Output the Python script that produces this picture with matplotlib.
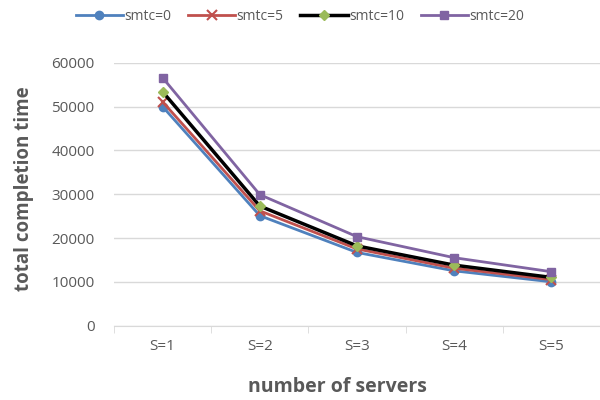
import matplotlib
matplotlib.use("Agg")
import matplotlib.pyplot as plt

# ── data ───────────────────────────────────────────────────────────────────────
servers = ["S=1", "S=2", "S=3", "S=4", "S=5"]
smtc0  = [50000, 25100, 16700, 12500, 10000]
smtc5  = [51100, 26200, 17500, 13100, 10500]
smtc10 = [53400, 27300, 18200, 13800, 11000]
smtc20 = [56600, 29900, 20300, 15500, 12300]

TEXT_CLR = "#595959"
GRID_CLR = "#d9d9d9"

plt.rcParams["font.family"] = ["Open Sans", "DejaVu Sans"]

fig = plt.figure(figsize=(6, 4), dpi=100, facecolor="white")
ax = fig.add_axes([0.19, 0.186, 0.81, 0.657])

x = range(len(servers))
ax.plot(x, smtc0, color="#4F81BD", lw=2, marker="o", ms=6, label="smtc=0")
ax.plot(x, smtc5, color="#C0504D", lw=2, marker="x", ms=7, mew=1.5, label="smtc=5")
ax.plot(x, smtc10, color="black", lw=2.5, marker="D", ms=5,
        mfc="#9BBB59", mec="#9BBB59", label="smtc=10")
ax.plot(x, smtc20, color="#8064A2", lw=2, marker="s", ms=6, label="smtc=20")

ax.set_xlim(-0.5, len(servers) - 0.5)
ax.set_ylim(0, 60000)
ax.set_yticks(range(0, 60001, 10000))
ax.set_xticks(list(x))
ax.set_xticklabels(servers)
ax.set_xticks([i - 0.5 for i in range(len(servers) + 1)], minor=True)

ax.grid(axis="y", color=GRID_CLR, lw=1)
ax.set_axisbelow(True)
for side in ["top", "right", "left"]:
    ax.spines[side].set_visible(False)
ax.spines["bottom"].set_color(GRID_CLR)
ax.tick_params(axis="y", length=0, labelsize=11, colors=TEXT_CLR, pad=14)
ax.tick_params(axis="x", which="major", length=0, labelsize=11,
               colors=TEXT_CLR, pad=10)
ax.tick_params(axis="x", which="minor", length=5, color=GRID_CLR)

ax.set_xlabel("number of servers", fontsize=14, fontweight="bold",
              color=TEXT_CLR)
ax.xaxis.set_label_coords(0.46, -0.195)
ax.set_ylabel("total completion time", fontsize=13.5, fontweight="bold",
              color=TEXT_CLR)
ax.yaxis.set_label_coords(-0.165, 0.52)

leg = fig.legend(loc="upper center", bbox_to_anchor=(0.5, 1.01), ncol=4,
                 frameon=False, fontsize=10, handlelength=3.4,
                 columnspacing=1.2, handletextpad=0.1)
for t in leg.get_texts():
    t.set_color(TEXT_CLR)

fig.savefig("out.png", dpi=100, facecolor="white")
